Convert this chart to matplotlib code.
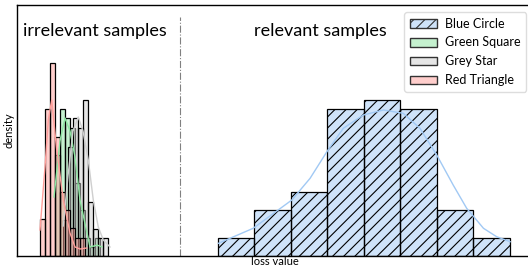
import matplotlib
matplotlib.use('Agg')
import matplotlib.pyplot as plt
from matplotlib.patches import Patch

plt.rcParams['font.family'] = ['Lato', 'DejaVu Sans']
plt.rcParams['hatch.linewidth'] = 0.8

# histogram bins (loss value) and densities
blue_edges = [5.5, 6.5, 7.5, 8.5, 9.5, 10.5, 11.5, 12.5, 13.5]
blue_heights = [0.177, 0.457, 0.64, 1.467, 1.56, 1.467, 0.457, 0.177]
blue_kde_x = [5.52, 6.47, 7.53, 8.03, 8.49, 8.94, 9.49, 10.04, 10.58, 11.04, 11.5, 11.95, 12.32, 12.78, 13.14, 13.51]
blue_kde_y = [0.127, 0.277, 0.56, 0.777, 1.043, 1.277, 1.41, 1.46, 1.427, 1.277, 1.01, 0.71, 0.477, 0.277, 0.193, 0.143]

green_edges = [1.041, 1.178, 1.315, 1.452, 1.589, 1.726, 1.863, 2.0, 2.137, 2.274]
green_heights = [1.01, 1.47, 1.38, 1.28, 0.73, 0.46, 0.18, 0.09, 0.18]
green_kde_x = [1.014, 1.178, 1.315, 1.452, 1.589, 1.726, 1.918, 2.0, 2.11, 2.19, 2.33]
green_kde_y = [0.59, 1.15, 1.38, 1.25, 0.99, 0.56, 0.23, 0.09, 0.10, 0.11, 0.09]

grey_edges = [1.268, 1.405, 1.542, 1.679, 1.816, 1.953, 2.090, 2.227, 2.364, 2.501]
grey_heights = [0.36, 1.09, 1.38, 1.28, 1.56, 0.54, 0.27, 0.18, 0.18]
grey_kde_x = [1.268, 1.397, 1.534, 1.679, 1.808, 1.953, 2.090, 2.227, 2.364, 2.548]
grey_kde_y = [0.30, 0.80, 1.25, 1.39, 1.25, 0.96, 0.56, 0.29, 0.16, 0.09]

red_edges = [0.63, 0.767, 0.904, 1.041, 1.178, 1.315, 1.452, 1.589, 1.726, 1.863]
red_heights = [0.37, 1.47, 1.93, 1.19, 0.64, 0.46, 0.28, 0.18, 0.18]
red_kde_x = [0.63, 0.767, 0.858, 0.951, 1.088, 1.268, 1.452, 1.589, 1.726, 1.91]
red_kde_y = [0.26, 0.89, 1.36, 1.56, 1.06, 0.56, 0.23, 0.09, 0.07, 0.08]

labels = ['Blue Circle', 'Green Square', 'Grey Star', 'Red Triangle']
colors = ['#a1c9f4', '#8de5a1', '#cfcfcf', '#ff9f9b']
hatches = ['///', None, None, None]
split_at = 4.47

fig = plt.figure(figsize=(5.28, 2.69), dpi=100)
ax = fig.add_axes([17 / 528, 13 / 269, (533 - 17) / 528, 251 / 269])

series = [
    (blue_edges, blue_heights, blue_kde_x, blue_kde_y),
    (green_edges, green_heights, green_kde_x, green_kde_y),
    (grey_edges, grey_heights, grey_kde_x, grey_kde_y),
    (red_edges, red_heights, red_kde_x, red_kde_y),
]
for (edges, heights, kx, ky), col, hatch in zip(series, colors, hatches):
    widths = [b - a for a, b in zip(edges[:-1], edges[1:])]
    # pale fill, then black outline (+ hatch) on top
    ax.bar(edges[:-1], heights, width=widths, align='edge', color=col, alpha=0.5,
           edgecolor='none')
    ax.bar(edges[:-1], heights, width=widths, align='edge', fill=False,
           edgecolor='black', linewidth=0.9, hatch=hatch)
    ax.plot(kx, ky, color=col, lw=1)

ax.axvline(split_at, ymax=0.952, color='grey', lw=0.8, ls='-.')

ax.set_xlim(0, (533 - 17) / 36.5)
ax.set_ylim(0, 2.51)
ax.set_xticks([])
ax.set_yticks([])
ax.set_xlabel('loss value', fontsize=8, labelpad=0)
ax.set_ylabel('density', fontsize=8, labelpad=2)
for s in ax.spines.values():
    s.set_linewidth(1)

ax.text(0.151, 0.896, 'irrelevant samples', transform=ax.transAxes,
        ha='center', va='center', fontsize=13)
ax.text(0.587, 0.896, 'relevant samples', transform=ax.transAxes,
        ha='center', va='center', fontsize=13)

handles = [Patch(facecolor=(*matplotlib.colors.to_rgb(c), 0.5), edgecolor='#333333', hatch=h, lw=1)
           for c, h in zip(colors, hatches)]
ax.legend(handles, labels, loc='upper right', bbox_to_anchor=(526 / 528, 1 - 12 / 269),
          bbox_transform=fig.transFigure, borderaxespad=0, fontsize=9,
          handlelength=2.2, handleheight=0.7, labelspacing=0.55, fancybox=True,
          edgecolor='#dddddd', framealpha=1, borderpad=0.45, handletextpad=0.6)

fig.savefig('out.png', dpi=100)
